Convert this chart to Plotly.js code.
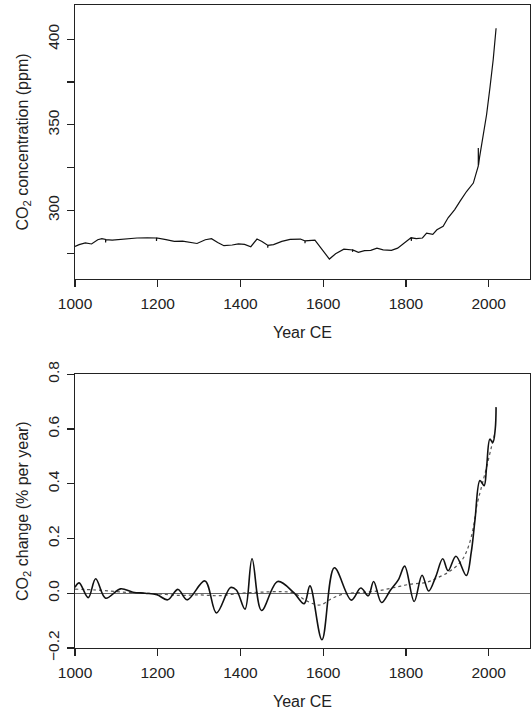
<!DOCTYPE html>
<html>
<head>
<meta charset="utf-8">
<script src="https://cdn.plot.ly/plotly-3.0.1.min.js"></script>
<style>html,body{margin:0;padding:0;background:#fff;}#chart{width:531px;height:710px;}</style>
</head>
<body>
<div id="chart"></div>
<script>
// ---- Top panel: CO2 concentration (ppm) ----
const co2Years = [1000,1010,1025,1040,1055,1065,1074,1074,1074.5,1090,1120,1150,1175,1197,1197,1197.5,1220,1240,1260,1280,1295,1315,1330,1345,1360,1380,1395,1410,1425,1440,1452,1466,1466,1466.5,1480,1500,1520,1545,1556,1556,1556.5,1580,1595,1615,1630,1650,1671,1671,1671.5,1685,1700,1715,1730,1745,1765,1780,1795,1813,1813,1813.5,1825,1840,1850,1865,1875,1890,1902,1918,1931,1947,1963,1971,1975,1975,1975.5,1978,1981,1987,1995,2003,2011,2018];
const co2Ppm   = [279.0,280.0,281.0,280.4,282.9,283.5,283.0,281.3,283.0,282.7,283.5,283.9,284.0,283.9,282.2,283.9,282.9,281.9,282.1,281.1,280.7,282.9,283.5,281.3,279.4,279.8,280.5,280.2,278.8,283.3,281.9,279.6,278.2,279.6,280.0,281.9,283.1,283.3,282.2,280.8,282.2,282.6,278.0,271.6,274.7,277.4,276.9,275.8,276.9,275.5,276.5,276.7,278.0,277.0,276.7,278.0,280.9,284.2,282.2,284.0,283.5,283.9,286.8,286.0,288.7,290.8,295.7,300.5,305.4,311.2,316.0,321.9,326.0,336.5,326.5,331.0,335.5,343.2,355.9,371.4,388.0,406.4];

// ---- Bottom panel: CO2 rate of change (% per year) ----
const rateYears = [1000,1010,1032,1050,1074,1110,1140,1170,1198,1224,1249,1271,1314,1342,1376,1390,1411,1428,1451,1490,1529,1554,1568,1597,1627,1668,1691,1709,1722,1741,1762,1782,1797,1820,1839,1855,1872,1889,1902,1921,1946,1958,1967,1979,1989,1995,2003,2010,2016,2018];
const rateVals  = [0.022,0.038,-0.016,0.053,-0.018,0.016,0.004,0.0,-0.005,-0.024,0.014,-0.024,0.045,-0.072,0.021,0.012,-0.058,0.126,-0.063,0.043,0.002,-0.038,0.027,-0.170,0.093,-0.025,0.019,-0.009,0.043,-0.034,0.010,0.050,0.099,-0.030,0.066,0.008,0.060,0.126,0.082,0.135,0.065,0.150,0.268,0.412,0.393,0.460,0.563,0.550,0.600,0.680];

const trendYears = [1000,1050,1100,1150,1200,1250,1300,1350,1400,1450,1500,1530,1560,1592,1620,1648,1690,1729,1769,1810,1850,1874,1906,1935,1951,1963,1971,1983,1995,2007,2016];
const trendVals  = [0.015,0.012,0.006,0.001,-0.002,-0.008,-0.006,-0.009,0.0,0.004,0.006,0.0,-0.028,-0.043,-0.020,-0.003,0.003,0.008,0.020,0.033,0.040,0.055,0.080,0.120,0.170,0.240,0.317,0.390,0.460,0.536,0.590];

// ---- Axes ticks ----
const xTickVals = [1000,1200,1400,1600,1800,2000];
const xTickText = ['1000','1200','1400','1600','1800','2000'];
const y1TickVals = [300,350,400];
const y1TickText = ['300','350','400'];
const y1AllTickVals = [275,300,325,350,375,400];
const y2TickVals = [-0.2,0,0.2,0.4,0.6,0.8];
const y2TickText = ['\u22120.2','0.0','0.2','0.4','0.6','0.8'];

const FONT = 'Liberation Sans, Arial, Helvetica, sans-serif';
const AX = '#222';
const TICKFONT = {family:FONT, size:15.5, color:AX};
const TITLEFONT = {family:FONT, size:16, color:AX};

const traces = [
  {x: co2Years, y: co2Ppm, xaxis:'x', yaxis:'y', mode:'lines', type:'scatter',
   line:{color:'#111', width:1.2}, hoverinfo:'skip'},
  // empty helper trace so the unlabelled-tick axis (y3) is drawn
  {x: [], y: [], xaxis:'x', yaxis:'y3', mode:'lines', type:'scatter', hoverinfo:'skip'},
  {x: trendYears, y: trendVals, xaxis:'x2', yaxis:'y2', mode:'lines', type:'scatter',
   line:{color:'#555', width:1.2, dash:'3px,3px', shape:'spline', smoothing:1}, hoverinfo:'skip'},
  {x: rateYears, y: rateVals, xaxis:'x2', yaxis:'y2', mode:'lines', type:'scatter',
   line:{color:'#111', width:1.6, shape:'spline', smoothing:1}, hoverinfo:'skip'}
];

function xax(anchor){
  return {anchor: anchor, range:[1000,2100], tickmode:'array', tickvals:xTickVals, ticktext:xTickText,
    ticks:'outside', ticklen:7, tickwidth:1.2, tickcolor:AX, ticklabelstandoff:3,
    showline:true, linecolor:AX, linewidth:1.3,
    mirror:true, showgrid:false, zeroline:false, tickfont:TICKFONT,
    title:{text:'Year CE', font:TITLEFONT, standoff:16}};
}
function yax(anchor, domain, range, tv, tt, title, zl){
  return {anchor: anchor, domain: domain, range: range, tickmode:'array', tickvals: tv, ticktext: tt, tickangle:-90,
    ticks:'outside', ticklen:7, tickwidth:1.2, tickcolor:AX, ticklabelstandoff:2,
    showline:true, linecolor:AX, linewidth:1.3,
    mirror:true, showgrid:false, zeroline: zl, zerolinecolor:'#666', zerolinewidth:1.5,
    tickfont:TICKFONT,
    title:{text:title, font:TITLEFONT, standoff:12}};
}

const layout = {
  width:531, height:710, paper_bgcolor:'#fff', plot_bgcolor:'#fff', showlegend:false,
  margin:{l:75, r:1, t:5, b:62},
  xaxis: xax('y'),
  yaxis: yax('x', [0.574,1], [260,420], y1TickVals, y1TickText, 'CO<sub>2</sub> concentration (ppm)', false),
  // unlabelled intermediate ticks of the top y axis (every 25 ppm)
  yaxis3: {overlaying:'y', anchor:'x', side:'left', range:[260,420], autorange:false, tickmode:'array', tickvals:y1AllTickVals,
    showticklabels:false, ticks:'outside', ticklen:7, tickwidth:1.2, tickcolor:AX,
    showline:false, showgrid:false, zeroline:false},
  xaxis2: xax('y2'),
  yaxis2: yax('x2', [0,0.4257], [-0.2,0.8], y2TickVals, y2TickText, 'CO<sub>2</sub> change (% per year)', true)
};

Plotly.newPlot('chart', traces, layout, {staticPlot:true, displayModeBar:false});
</script>
</body>
</html>
